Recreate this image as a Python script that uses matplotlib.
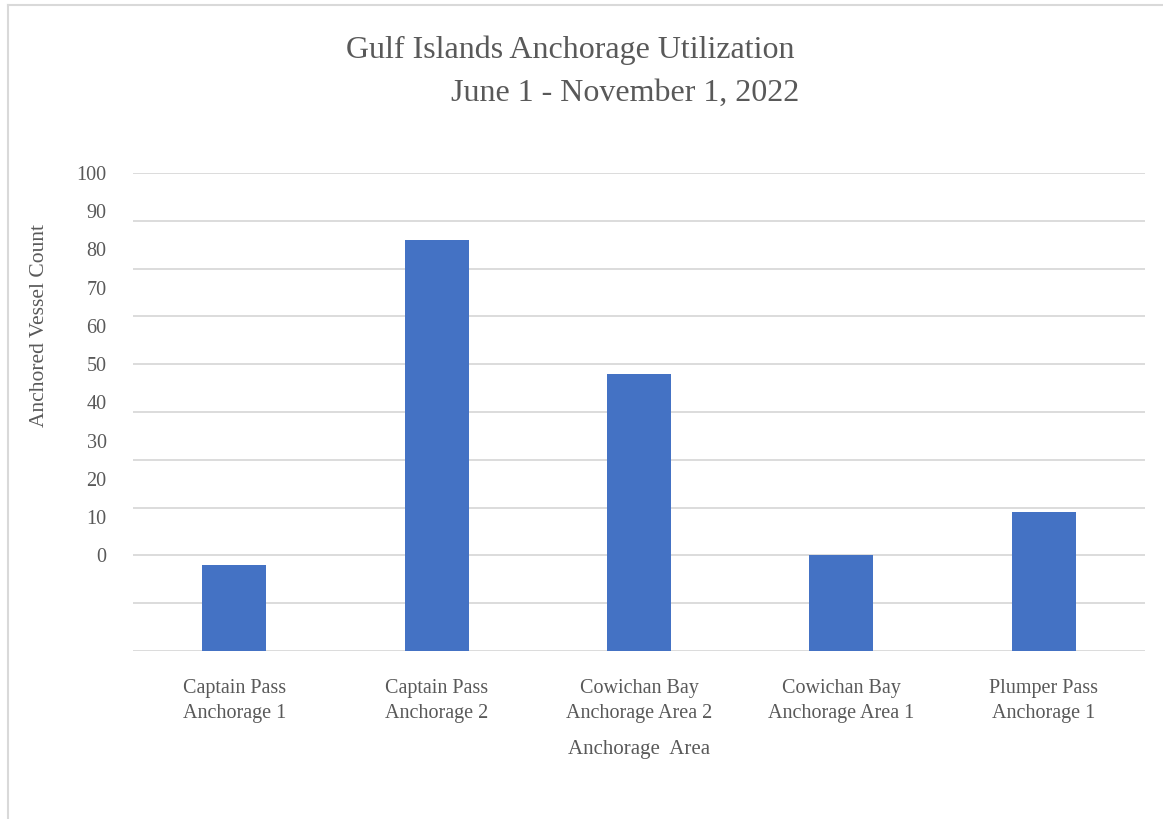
import numpy as np
import matplotlib
matplotlib.use('Agg')
import matplotlib.pyplot as plt

areas = ['Captain Pass\nAnchorage 1', 'Captain Pass\nAnchorage 2', 'Cowichan Bay\nAnchorage Area 2',
         'Cowichan Bay\nAnchorage Area 1', 'Plumper Pass\nAnchorage 1']
vessel_counts = [18, 86, 58, 20, 29]
grid_values = np.arange(0, 101, 10)
tick_labels = ['100', '90', '80', '70', '60', '50', '40', '30', '20', '10', '0']
tick_positions = [100, 92, 84, 76, 68, 60, 52, 44, 36, 28, 20]

TEXT = '#595959'
plt.rcParams['font.family'] = ['Liberation Serif', 'DejaVu Serif']

fig = plt.figure(figsize=(11.63, 8.19), dpi=100)
ax = fig.add_axes([133 / 1163, 1 - 651 / 819, (1145 - 133) / 1163, (651 - 173) / 819])

x = np.arange(len(areas))
ax.bar(x, vessel_counts, width=0.316, color='#4472C4', zorder=3)

ax.set_xlim(-0.5, 4.5)
ax.set_ylim(0, 100)
for v in grid_values:
    ax.axhline(v, color='#d9d9d9', lw=1.3, zorder=1)

ax.set_yticks(tick_positions, tick_labels)
ax.set_xticks(x, areas)
ax.tick_params(axis='y', length=0, pad=19, labelsize=14.5, labelcolor=TEXT)
ax.tick_params(axis='x', length=0, pad=20, labelsize=14.5, labelcolor=TEXT)
for lbl in ax.get_xticklabels():
    lbl.set_linespacing(1.45)
for s in ax.spines.values():
    s.set_visible(False)

ax.set_xlabel('Anchorage  Area', fontsize=15, color=TEXT, labelpad=12)
ax.set_ylabel('Anchored Vessel Count', fontsize=15.5, color=TEXT)
ax.yaxis.set_label_coords(-0.083, 0.68)

fig.text(570 / 1163, 1 - 50 / 819, 'Gulf Islands Anchorage Utilization', ha='center', va='center',
         fontsize=23, color=TEXT)
fig.text(625 / 1163, 1 - 93 / 819, 'June 1 - November 1, 2022', ha='center', va='center',
         fontsize=23, color=TEXT)

# light frame around the chart area
fig.add_artist(plt.Line2D([8 / 1163, 8 / 1163], [0, 1 - 5 / 819], transform=fig.transFigure,
                          color='#d9d9d9', lw=1.5))
fig.add_artist(plt.Line2D([8 / 1163, 1], [1 - 5 / 819, 1 - 5 / 819], transform=fig.transFigure,
                          color='#d9d9d9', lw=1.5))

fig.savefig('out.png', dpi=100)
